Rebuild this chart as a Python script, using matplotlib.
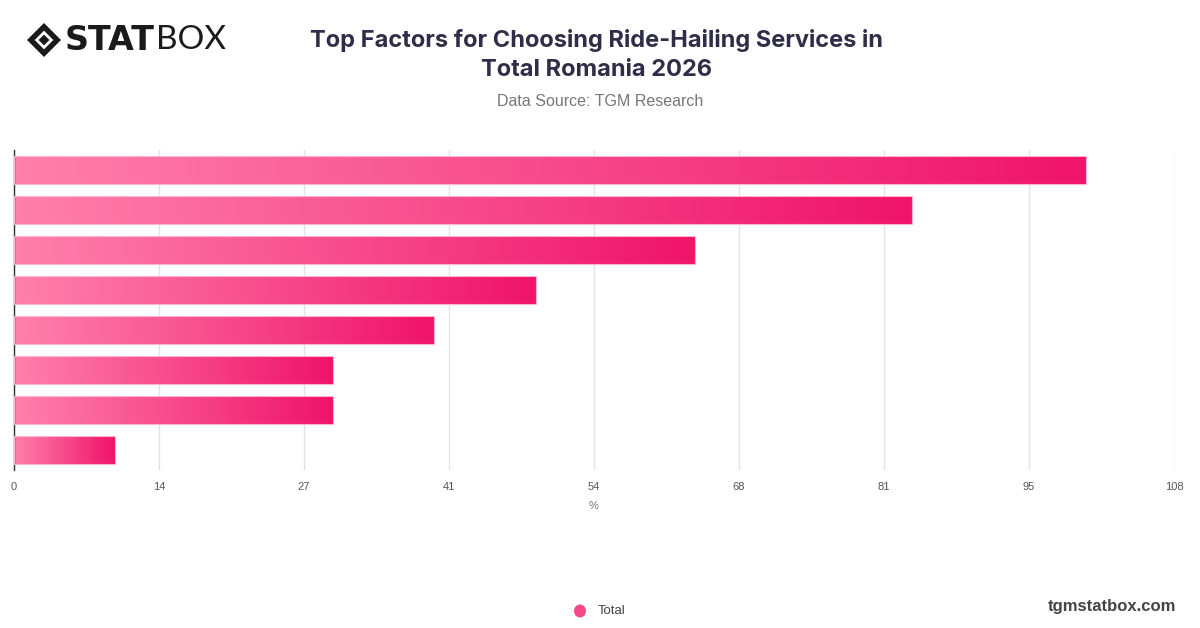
import numpy as np
import matplotlib.pyplot as plt
from matplotlib.colors import LinearSegmentedColormap
from matplotlib.patches import Polygon, Ellipse

# data (8 unlabeled factors, % of respondents)
factors = ["F1", "F2", "F3", "F4", "F5", "F6", "F7", "F8"]
values = [99.8, 83.6, 63.4, 48.6, 39.1, 29.7, 29.7, 9.4]
ticks = np.linspace(0, 108, 9)
tick_labels = ["0", "14", "27", "41", "54", "68", "81", "95", "108"]

title = "Top Factors for Choosing Ride-Hailing Services in\nTotal Romania 2026"
subtitle = "Data Source: TGM Research"

plt.rcParams['font.family'] = ['Inter', 'DejaVu Sans']

fig = plt.figure(figsize=(12, 6.28), dpi=100)
ax = fig.add_axes([14 / 1200, 1 - 470 / 628, 1160 / 1200, 320 / 628])

cmap = LinearSegmentedColormap.from_list("pink", ["#ff80ab", "#f0146a"])
grad = np.linspace(0, 1, 256).reshape(1, -1)

y = np.arange(len(factors))
bars = ax.barh(y, values, height=0.68, color="none", edgecolor="#ffb3cc",
               linewidth=0.8, zorder=3)
for b in bars:
    x0, y0, w, h = b.get_x(), b.get_y(), b.get_width(), b.get_height()
    im = ax.imshow(grad, cmap=cmap, aspect="auto", extent=(x0, x0 + w, y0 + h, y0),
                   zorder=2)
    im.set_clip_path(b)

ax.set_xlim(0, 108)
ax.set_ylim(len(factors) - 0.5, -0.5)
ax.set_xticks(ticks)
ax.set_xticklabels(tick_labels, fontsize=8, color="#555555",
                   family=['Liberation Sans', 'DejaVu Sans'])
ax.set_yticks([])
ax.tick_params(axis="x", length=0, pad=9)
ax.grid(axis="x", color="#e2e2e2", linewidth=1, zorder=0)
ax.set_axisbelow(True)
for s in ["top", "right", "bottom"]:
    ax.spines[s].set_visible(False)
ax.spines["left"].set_color("#333333")
ax.spines["left"].set_linewidth(1)
ax.set_xlabel("%", fontsize=8, color="#777777", labelpad=6,
              family=['Liberation Sans', 'DejaVu Sans'])

# titles
fig.text(597 / 1200, 1 - 55 / 628, title, ha="center", va="center", fontsize=17,
         fontweight="bold", color="#2f2d47", linespacing=1.45)
fig.text(600 / 1200, 1 - 101 / 628, subtitle, ha="center", va="center", fontsize=11.5,
         color="#777777", family=['Liberation Sans', 'DejaVu Sans'])

# logo
cx, cy, r = 44 / 1200, 1 - 40 / 628, 17
sx, sy = r / 1200, r / 628
outer = Polygon([(cx - sx, cy), (cx, cy + sy), (cx + sx, cy), (cx, cy - sy)],
                closed=True, transform=fig.transFigure, facecolor="#1a1a1a")
inner = Polygon([(cx - sx * 0.55, cy), (cx, cy + sy * 0.55), (cx + sx * 0.55, cy),
                 (cx, cy - sy * 0.55)], closed=True, transform=fig.transFigure,
                facecolor="white")
core = Polygon([(cx - sx * 0.32, cy), (cx, cy + sy * 0.32), (cx + sx * 0.32, cy),
                (cx, cy - sy * 0.32)], closed=True, transform=fig.transFigure,
               facecolor="#1a1a1a")
for p in (outer, inner, core):
    fig.patches.append(p)
stat = fig.text(65 / 1200, 1 - 40 / 628, "STAT", ha="left", va="center", fontsize=24,
                fontweight="heavy", color="#1a1a1a", family=['DejaVu Sans'])
fig.canvas.draw()
bb = stat.get_window_extent()
fig.text(bb.x1 / 1200 + 1 / 1200, 1 - 40 / 628, "BOX", ha="left", va="center",
         fontsize=24, color="#1a1a1a", family=['Lato', 'DejaVu Sans'])

# legend
fig.patches.append(Ellipse((580 / 1200, 1 - 611 / 628), 12 / 1200, 13 / 628,
                           transform=fig.transFigure, facecolor="#f8468a"))
fig.text(598 / 1200, 1 - 611 / 628, "Total", ha="left", va="center", fontsize=9.5,
         color="#444444", family=['Liberation Sans', 'DejaVu Sans'])
fig.text(1176 / 1200, 1 - 606 / 628, "tgmstatbox.com", ha="right", va="center",
         fontsize=12, fontweight="bold", color="#444444",
         family=['Liberation Sans', 'DejaVu Sans'])

fig.savefig("out.png", dpi=100)
